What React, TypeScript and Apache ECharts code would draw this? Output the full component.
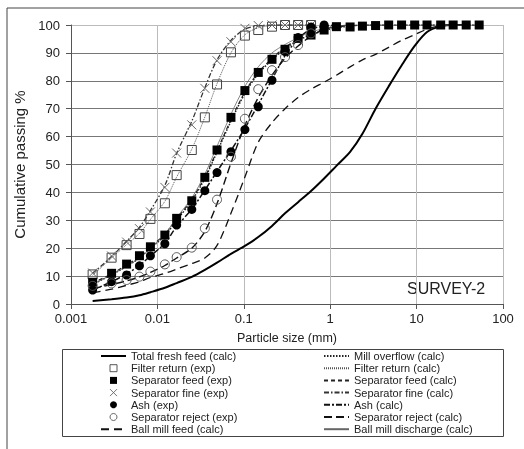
import React, { useEffect, useRef } from "react";
import * as echarts from "echarts";

// Particle sizes (mm) of the measured / calculated points
const sizes = [0.00178, 0.00295, 0.0044, 0.0062, 0.0083, 0.0122, 0.0167, 0.025, 0.0354, 0.049, 0.071, 0.103, 0.147, 0.212, 0.3, 0.425, 0.6, 0.85, 1.18, 1.7, 2.36, 3.35, 4.75, 6.7, 9.5, 13.2, 19, 26.5, 37.5, 53];

const xTickLabels = ["0.001", "0.01", "0.1", "1", "10", "100"];

// Experimental series (cumulative passing %)
const filterReturnExp = [10.6, 16.6, 21.1, 25.1, 30.5, 36.1, 46.2, 55.2, 66.9, 78.7, 90.2, 96.2, 98.2, 99.4, 100, 100, 100];
const separatorFeedExp = [7.8, 11, 14.3, 17.3, 20.5, 24.7, 30.7, 37, 45.4, 55.2, 66.9, 76.5, 83, 87.7, 91.3, 95.2, 96.4, 98.2, 99.4, 99.3, 99.6, 99.8, 100, 100, 100, 100, 100, 100, 100, 100];
const separatorFineExp = [11.1, 17.2, 22.2, 27, 33, 41.8, 54.1, 64.2, 77.3, 87.2, 94, 98.8, 99.8, 100, 100, 100, 100];
const ashExp = [5, 8, 10.4, 13.7, 17.3, 21.6, 28.3, 33.9, 40.6, 47.1, 54.6, 62.5, 70.7, 80.2, 90.5, 95.5, 99.3, 100];
const separatorRejectExp = [6.5, 7.4, 8.6, 9.8, 11.6, 14.2, 16.8, 20.2, 27.1, 37.4, 52.8, 66.4, 77, 83.8, 88.5, 92.8, 97];

// Calculated series
const totalFreshFeedCalc = [1.1, 1.7, 2.3, 3.1, 4.2, 5.8, 7.5, 9.7, 12.2, 14.8, 18, 20.8, 24, 28, 32.5, 36.5, 40.5, 45, 49.5, 54.5, 61, 70, 78, 85.5, 92.5, 97.5, 99.5, 100, 100];
const ballMillFeedCalc = [4, 5.3, 6.7, 8, 9.5, 11, 12.5, 14.5, 16.5, 21, 32.5, 45.5, 58, 65, 70, 74, 77, 79.5, 82, 85, 87.5, 89.5, 92, 94.5, 96.5, 98.5, 99.8, 100];
const millOverflowCalc = [7, 10.5, 13.5, 16.5, 20, 24.5, 30, 37, 45, 54.5, 65.5, 75.5, 82.5, 87.5, 91.5, 94.5, 96.5, 98, 99, 99.6, 100, 100, 100, 100, 100, 100, 100, 100, 100, 100];
const filterReturnCalc = [10.3, 16.5, 21.3, 25.3, 30.3, 36.8, 45.5, 55.5, 67, 79, 90, 96.5, 99, 99.8, 100, 100, 100];
const separatorFeedCalc = [7.5, 10.8, 14, 17, 20.5, 25, 30.5, 37.5, 45.5, 55, 66, 76, 83, 88, 92, 95, 97, 98.5, 99.3, 99.7, 100, 100, 100, 100, 100, 100, 100, 100, 100, 100];
const separatorFineCalc = [11, 17, 22.5, 27.5, 33.5, 42.5, 54, 65.5, 77.5, 87.5, 94.5, 98.5, 99.7, 100, 100, 100, 100];
const ashCalc = [5, 8, 10.8, 13.8, 17.2, 21.8, 27.8, 34, 40.8, 47.5, 55, 63, 71.5, 80.5, 89, 95, 98.5, 99.6, 100];
const separatorRejectCalc = [5.5, 7, 8.3, 9.7, 11.3, 13.8, 16.5, 20, 26, 36, 50.5, 64, 74, 82, 88, 92.5, 96, 98.5, 99.5, 100];
const ballMillDischargeCalc = [7, 10.5, 13.5, 16.5, 20, 25, 31, 38, 46.5, 56.5, 68, 78, 85, 90, 93, 95.5, 97.5, 98.7, 99.5, 100, 100, 100, 100, 100, 100, 100, 100, 100, 100, 100];

const leftLegend = ["Total fresh feed (calc)", "Filter return (exp)", "Separator feed (exp)", "Separator fine (exp)", "Ash (exp)", "Separator reject (exp)", "Ball mill feed (calc)"];
const rightLegend = ["Mill overflow (calc)", "Filter return (calc)", "Separator feed (calc)", "Separator fine (calc)", "Ash (calc)", "Separator reject (calc)", "Ball mill discharge (calc)"];

const FONT = "'Liberation Sans', Arial, sans-serif";
const SQUARE = "path://M0,0L10,0L10,10L0,10Z";
const pair = (vals: number[]) => vals.map((v, i) => [sizes[i], v]);

const calc = (name: string, vals: number[], color: string, width: number, type: any) => ({
  name,
  type: "line",
  data: pair(vals),
  smooth: 0.3,
  symbol: "none",
  showSymbol: false,
  lineStyle: { color, width, type },
  itemStyle: { color },
  z: 2,
});

const exp = (name: string, vals: number[], symbol: string, size: number, fill: string, stroke: string, bw: number) => ({
  name,
  type: "scatter",
  data: pair(vals),
  symbol,
  symbolSize: size,
  itemStyle: { color: fill, borderColor: stroke, borderWidth: bw, opacity: 1 },
  z: 3,
});

const legendItem = (name: string) => {
  if (name.indexOf("(calc)") >= 0) return { name, itemStyle: { opacity: 0 } };
  if (name === "Filter return (exp)") return { name, icon: SQUARE, itemStyle: { borderWidth: 0.9 } };
  if (name === "Separator feed (exp)") return { name, icon: SQUARE, itemStyle: { borderWidth: 0 } };
  if (name === "Ash (exp)") return { name, itemStyle: { borderWidth: 0 } };
  return { name, itemStyle: { borderWidth: 0.9 } };
};

export default function App() {
  const ref = useRef<HTMLDivElement>(null);
  useEffect(() => {
    if (!ref.current) return;
    const chart = echarts.init(ref.current, undefined, { renderer: "svg" });
    const legendBase = {
      orient: "vertical",
      top: 350.5,
      itemWidth: 25,
      itemHeight: 7,
      itemGap: 1.2,
      padding: 0,
      selectedMode: false,
      textStyle: { fontSize: 11, color: "#222", fontFamily: FONT, lineHeight: 11 },
    };
    const hGrid = ["#777", "#777", "#777", "#777", "#777", "#777", "#777", "#777", "#777", "#777", "#bbb"];
    chart.setOption({
      animation: false,
      textStyle: { fontFamily: FONT },
      grid: { left: 71, right: 21, top: 25, bottom: 145, containLabel: false },
      xAxis: {
        type: "log",
        logBase: 10,
        min: 0.001,
        max: 100,
        name: "Particle size (mm)",
        nameLocation: "middle",
        nameGap: 27,
        nameTextStyle: { fontSize: 12.5, color: "#222", fontFamily: FONT },
        axisLine: { show: true, lineStyle: { color: "#555", width: 1 } },
        axisTick: { show: true, length: 5, lineStyle: { color: "#555" } },
        minorTick: { show: false },
        axisLabel: {
          fontSize: 13,
          color: "#222",
          margin: 8,
          formatter: (v: number) => xTickLabels[Math.round(Math.log10(v)) + 3] ?? String(v),
        },
        splitLine: { show: true, lineStyle: { color: "#bbb", width: 1 } },
      },
      yAxis: {
        type: "value",
        min: 0,
        max: 100,
        interval: 10,
        name: "Cumulative passing %",
        nameLocation: "middle",
        nameRotate: 90,
        nameGap: 36,
        nameTextStyle: { fontSize: 15, color: "#222", fontFamily: FONT },
        axisLine: { show: true, lineStyle: { color: "#555", width: 1 } },
        axisTick: { show: true, length: 5, lineStyle: { color: "#555" } },
        axisLabel: { fontSize: 13, color: "#222", margin: 11 },
        splitLine: { show: true, lineStyle: { color: hGrid, width: 1 } },
      },
      legend: [
        { ...legendBase, left: 100, data: leftLegend.map(legendItem) },
        { ...legendBase, left: 323, data: rightLegend.map(legendItem) },
      ],
      graphic: [
        { type: "rect", shape: { x: 62.5, y: 349.5, width: 441, height: 87 }, style: { fill: "none", stroke: "#444", lineWidth: 1 }, silent: true },
        { type: "line", shape: { x1: 7, y1: 8, x2: 524, y2: 8 }, style: { stroke: "#444", lineWidth: 1 }, silent: true },
        { type: "line", shape: { x1: 7, y1: 8, x2: 7, y2: 449 }, style: { stroke: "#444", lineWidth: 1 }, silent: true },
        { type: "text", left: 407, top: 280, style: { text: "SURVEY-2", fontSize: 16, fontFamily: FONT, fill: "#222" }, silent: true },
      ],
      series: [
        calc("Total fresh feed (calc)", totalFreshFeedCalc, "#000", 2, "solid"),
        calc("Ball mill feed (calc)", ballMillFeedCalc, "#111", 1.3, [8, 5]),
        calc("Mill overflow (calc)", millOverflowCalc, "#222", 1.5, [1.5, 1.5]),
        calc("Filter return (calc)", filterReturnCalc, "#555", 1, [1, 1]),
        calc("Separator feed (calc)", separatorFeedCalc, "#222", 1.2, [4, 3]),
        calc("Separator fine (calc)", separatorFineCalc, "#333", 1.3, [5, 2, 1.5, 2]),
        calc("Ash (calc)", ashCalc, "#111", 1.5, [6, 2, 2, 2]),
        calc("Separator reject (calc)", separatorRejectCalc, "#111", 1.4, [8, 4]),
        calc("Ball mill discharge (calc)", ballMillDischargeCalc, "#666", 0.8, "solid"),
        exp("Filter return (exp)", filterReturnExp, "rect", 9, "rgba(255,255,255,0)", "#444", 1),
        exp("Separator feed (exp)", separatorFeedExp, "rect", 9, "#000", "#000", 0),
        exp("Separator fine (exp)", separatorFineExp, "path://M0,0L10,10M10,0L0,10", 9, "rgba(255,255,255,0)", "#666", 1),
        exp("Ash (exp)", ashExp, "circle", 9, "#000", "#000", 0),
        exp("Separator reject (exp)", separatorRejectExp, "circle", 9, "rgba(255,255,255,0)", "#555", 1),
      ],
    });
    return () => chart.dispose();
  }, []);
  return <div ref={ref} style={{ position: "fixed", left: 0, top: 0, width: 524, height: 449 }} />;
}
